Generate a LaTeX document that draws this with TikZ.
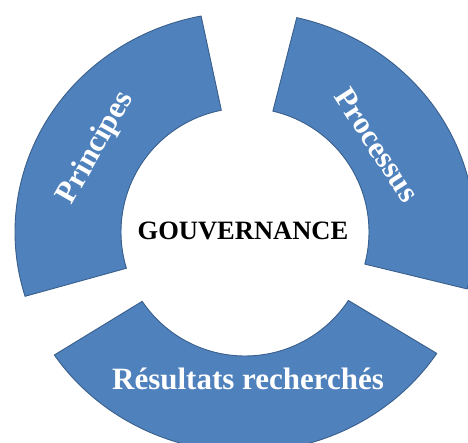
\documentclass[tikz,border=0pt]{standalone}
\usepackage{fontspec}
\setmainfont{Liberation Serif}
\begin{document}
\begin{tikzpicture}[x=1pt,y=1pt,
  seg/.style={fill=segblue, draw=segedge, line width=0.9pt, line join=round},
  armlabel/.style={text=white, font=\bfseries\fontsize{31}{31}\selectfont, inner sep=0pt},
  hub/.style={text=black, font=\bfseries\fontsize{26.5}{26.5}\selectfont, inner sep=0pt}]
\definecolor{segblue}{RGB}{79,129,189}
\definecolor{segedge}{RGB}{58,95,140}
\useasboundingbox (0,0) rectangle (468,443);
\clip (0,0) rectangle (468,443);
\coordinate (c) at (245,211);
\begin{scope}[shift={(c)}]
  % upper-left block arc
  \draw[seg] (101:230pt and 220pt) arc[start angle=101, end angle=197, x radius=230pt, y radius=220pt]
    -- (197:124pt) arc[start angle=197, end angle=101, radius=124pt] -- cycle;
  % upper-right block arc
  \draw[seg] (-15:230pt and 220pt) arc[start angle=-15, end angle=77, x radius=230pt, y radius=220pt]
    -- (77:124pt) arc[start angle=77, end angle=-15, radius=124pt] -- cycle;
  % lower block arc
  \draw[seg] (214:230pt and 220pt) arc[start angle=214, end angle=326.5, x radius=230pt, y radius=220pt]
    -- (326.5:124pt) arc[start angle=326.5, end angle=214, radius=124pt] -- cycle;
  \node[armlabel, rotate=60.5] (principes) at (150.6:171pt) {Principes};
  \node[armlabel, rotate=-57] (processus) at (33.4:158pt) {Processus};
\end{scope}
\node[armlabel, anchor=base] (resultats) at (248,53) {Résultats recherchés};
\node[hub, anchor=base] (gouv) at (243,203) {GOUVERNANCE};
\end{tikzpicture}
\end{document}
